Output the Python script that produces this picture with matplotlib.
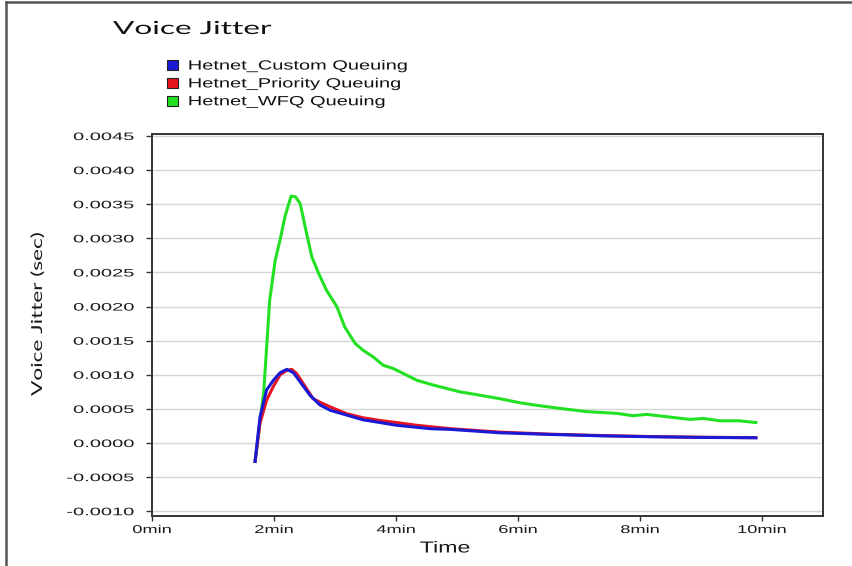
import numpy as np
import matplotlib
matplotlib.use("Agg")
import matplotlib.pyplot as plt
from matplotlib.patheffects import AbstractPathEffect
from matplotlib.transforms import Affine2D
from matplotlib.patches import Patch
from matplotlib.lines import Line2D

# ---------------- data (time in minutes, jitter in seconds) ----------------
series_names = ["Hetnet_Custom Queuing", "Hetnet_Priority Queuing", "Hetnet_WFQ Queuing"]
series_colors = ["#1a1ad6", "#e8141e", "#22e022"]

custom_t = [1.69, 1.77, 1.88, 1.99, 2.10, 2.21, 2.32, 2.45, 2.59, 2.75, 2.92, 3.19, 3.46,
            3.74, 4.01, 4.34, 4.56, 4.89, 5.70, 6.52, 7.34, 8.16, 8.98, 9.90]
custom_v = [-0.00027, 0.00038, 0.00078, 0.00092, 0.00103, 0.00108, 0.00103, 0.00087,
            0.00070, 0.00056, 0.00048, 0.00041, 0.00034, 0.00030, 0.00026, 0.00023,
            0.00021, 0.00020, 0.00015, 0.000126, 0.000106, 0.000092, 0.000082, 0.000077]

priority_t = [1.69, 1.77, 1.88, 1.99, 2.10, 2.20, 2.29, 2.37, 2.51, 2.64, 2.75, 2.92,
              3.19, 3.46, 3.74, 4.01, 4.34, 4.56, 4.89, 5.70, 6.52, 7.34, 8.16, 8.98, 9.90]
priority_v = [-0.00027, 0.00029, 0.00063, 0.00083, 0.00100, 0.00106, 0.00108, 0.00102,
              0.00083, 0.00065, 0.00060, 0.00053, 0.00043, 0.00037, 0.00033, 0.00030,
              0.00026, 0.00024, 0.00021, 0.00016, 0.00013, 0.00011, 0.000095, 0.000085,
              0.000078]

wfq_t = [1.69, 1.83, 1.93, 2.02, 2.10, 2.18, 2.28, 2.35, 2.43, 2.51, 2.62, 2.73, 2.86,
         3.03, 3.16, 3.33, 3.46, 3.63, 3.79, 3.96, 4.12, 4.34, 4.61, 5.05, 5.38, 5.70,
         6.03, 6.36, 6.69, 7.13, 7.62, 7.89, 8.11, 8.44, 8.82, 9.04, 9.31, 9.62, 9.90]
wfq_v = [-0.00027, 0.00073, 0.00210, 0.00268, 0.00298, 0.00332, 0.00362, 0.00361,
         0.00351, 0.00317, 0.00273, 0.00249, 0.00224, 0.00200, 0.00170, 0.00146,
         0.00136, 0.00126, 0.00114, 0.00109, 0.00102, 0.00092, 0.00085, 0.00075,
         0.00070, 0.00065, 0.00059, 0.000546, 0.000507, 0.00046, 0.000434, 0.00040,
         0.00042, 0.000385, 0.000346, 0.00036, 0.000326, 0.000326, 0.00030]

y_ticks = [-0.0010, -0.0005, 0.0000, 0.0005, 0.0010, 0.0015, 0.0020, 0.0025,
           0.0030, 0.0035, 0.0040, 0.0045]
y_ticklabels = ["-0.0010", "-0.0005", "0.0000", "0.0005", "0.0010", "0.0015",
                "0.0020", "0.0025", "0.0030", "0.0035", "0.0040", "0.0045"]
x_ticks = [0, 2, 4, 6, 8, 10]
x_ticklabels = ["0min", "2min", "4min", "6min", "8min", "10min"]


# ---------------- text stretch path effect ----------------
class Stretch(AbstractPathEffect):
    def __init__(self, sx=1.0, sy=1.0, anchor="left"):
        super().__init__()
        self.sx, self.sy, self.anchor = sx, sy, anchor

    def draw_path(self, renderer, gc, tpath, affine, rgbFace=None):
        ext = tpath.get_extents()
        if self.anchor == "right":
            cx = ext.x1
        elif self.anchor == "center":
            cx = 0.5 * (ext.x0 + ext.x1)
        else:
            cx = ext.x0
        cy = 0.5 * (ext.y0 + ext.y1)
        t = Affine2D().translate(-cx, -cy).scale(self.sx, self.sy).translate(cx, cy) + affine
        renderer.draw_path(gc, tpath, t, rgbFace)


W, H = 853, 566
fig = plt.figure(figsize=(W / 100, H / 100), dpi=100)
fig.patch.set_facecolor("white")

ax = fig.add_axes([152 / W, 1 - 516 / H, (823 - 152) / W, (516 - 134) / H])
ax.set_facecolor("white")

ax.plot(wfq_t, wfq_v, color=series_colors[2], lw=2.2, solid_joinstyle="round", zorder=3)
ax.plot(priority_t, priority_v, color=series_colors[1], lw=2.2, solid_joinstyle="round", zorder=4)
ax.plot(custom_t, custom_v, color=series_colors[0], lw=2.2, solid_joinstyle="round", zorder=5)

ax.set_xlim(0, 11.0)
ax.set_ylim(-0.00107, 0.00453)
ax.set_yticks(y_ticks)
ax.set_yticklabels(y_ticklabels)
ax.set_xticks(x_ticks)
ax.set_xticklabels(x_ticklabels)
ax.grid(axis="y", color="#d6d6d6", lw=1.0)
ax.set_axisbelow(True)

for s in ax.spines.values():
    s.set_color("#333333")
    s.set_linewidth(1.4)

ax.tick_params(axis="y", direction="out", length=4, width=1, color="#333333",
               pad=9, labelsize=7.8, labelcolor="#1a1a1a")
ax.tick_params(axis="x", direction="out", length=3.5, width=1, color="#333333",
               pad=3, labelsize=8.2, labelcolor="#1a1a1a")
for lab in ax.get_yticklabels() + ax.get_xticklabels():
    lab.set_family("Liberation Sans")

# x label
fig.text(445 / W, 1 - 548 / H, "Time", ha="center", va="center",
         family="Liberation Sans", fontsize=11.5, color="#1a1a1a",
         path_effects=[Stretch(sx=1.45, anchor="center")])

# y label
fig.text(38 / W, 1 - 314 / H, "Voice Jitter (sec)", ha="center", va="center",
         rotation=90, family="Lato", fontsize=15.5, color="#1a1a1a",
         path_effects=[Stretch(sx=1.05, sy=0.7, anchor="center")])

# title
fig.text(113 / W, 1 - 34 / H, "Voice Jitter", ha="left", va="baseline",
         family="Lato", fontsize=13, color="#111111",
         path_effects=[Stretch(sx=1.75, anchor="left")])

# legend
handles = [Patch(facecolor=c, edgecolor="#222222", lw=0.8) for c in series_colors]
leg = fig.legend(handles, series_names, loc="upper left",
                 bbox_to_anchor=(167 / W, 1 - 60 / H), frameon=False,
                 prop={"family": "Liberation Sans", "size": 9.6},
                 handlelength=0.85, handleheight=0.75, handletextpad=0.75,
                 labelspacing=0.4, borderaxespad=0, borderpad=0)
for t in leg.get_texts():
    t.set_path_effects([Stretch(sx=1.5, anchor="left")])
    t.set_color("#111111")

# outer frame lines (top and left)
fig.add_artist(Line2D([6 / W, 6 / W], [0, 1 - 1.5 / H], transform=fig.transFigure,
                      color="#555555", lw=1.8))
fig.add_artist(Line2D([6 / W, 1], [1 - 1.5 / H, 1 - 1.5 / H], transform=fig.transFigure,
                      color="#555555", lw=1.8))

fig.canvas.draw()
for tick in ax.yaxis.get_major_ticks():
    tick.label1.set_path_effects([Stretch(sx=1.85, anchor="right")])
for tick in ax.xaxis.get_major_ticks():
    tick.label1.set_path_effects([Stretch(sx=1.6, anchor="center")])

fig.savefig("out.png", dpi=100, facecolor="white")
